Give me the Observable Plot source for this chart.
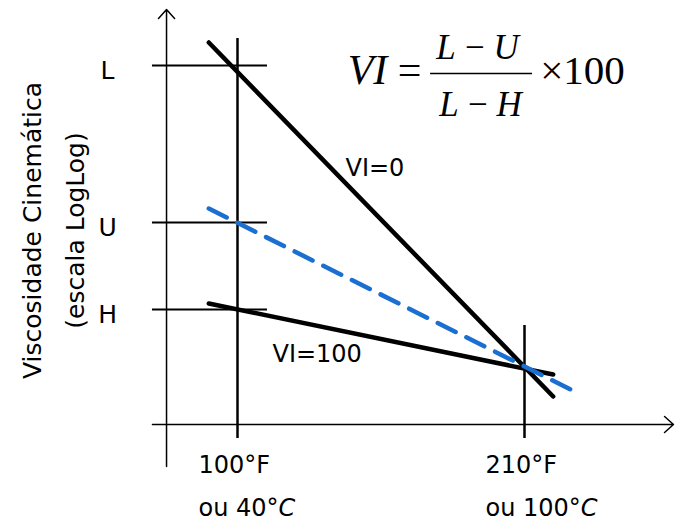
<!DOCTYPE html>
<html>
<head>
<meta charset="utf-8">
<script src="https://cdn.jsdelivr.net/npm/d3@7"></script>
<script src="https://cdn.jsdelivr.net/npm/@observablehq/plot@0.6"></script>
<style>
  body { margin: 0; background: #fff; }
  #chart { width: 675px; height: 524px; }
</style>
</head>
<body>
<div id="chart"></div>
<script>
// ---------- data ----------
const temperaturesF = [100, 210];
const temperatureLabelsF = ["100°F", "210°F"];
const temperatureLabelsC = ["ou 40°C", "ou 100°C"];

const levelNames = ["L", "U", "H"];
const levelValues = [35.9, 20.2, 11.5];   // viscosity (log-log units) at 100°F
const valueAt210 = 5.7;                   // common viscosity at 210°F

const vi0Temps = [89, 221];
const vi0Values = [38.2, 2.8];
const vi100Temps = [89, 221];
const vi100Values = [12.1, 5.0];
const oilTemps = [89, 230];
const oilValues = [21.6, 3.2];

const lineLabels = ["VI=0", "VI=100"];
const lineLabelTemps = [141.4, 113.4];
const lineLabelValues = [25.6, 7.0];

// ---------- layout (frame extents in data units) ----------
const originF = 72.8;
const xAxisStart = 67.4, xAxisEnd = 267.1;
const yAxisStart = -4.2, yAxisEnd = 41.5;
const levelRuleEnd = 111.5;
const tempLineBottom = -1.4;
const tempLineTops = [38.6, 9.9];
const fracBar = {x1: 174.0, x2: 213.1, y: 35.1};

const sans = "DejaVu Sans, Verdana, sans-serif";
const serif = "Liberation Serif, Times New Roman, serif";
const blue = "#1b6fd0";

const tempRows = temperaturesF.map((t, i) => ({t, top: tempLineTops[i], f: temperatureLabelsF[i], c: temperatureLabelsC[i]}));
const levelRows = levelNames.map((n, i) => ({n, v: levelValues[i]}));
const line = (xs, ys) => xs.map((x, i) => ({x, y: ys[i]}));
const labelRows = lineLabels.map((s, i) => ({s, x: lineLabelTemps[i], y: lineLabelValues[i]}));

const formulaText = (str, dx, dy, size, opts = {}) =>
  Plot.text([str], {frameAnchor: "top-left", dx, dy, text: d => d, lineAnchor: "middle", textAnchor: "middle", fontSize: size, fontFamily: serif, ...opts});

const chart = Plot.plot({
  width: 675,
  height: 524,
  margin: 0,
  style: {background: "#fff", color: "#000", overflow: "visible"},
  x: {domain: [100, 210], range: [237, 524], axis: null},
  y: {domain: [0, 35.9], range: [424, 65], axis: null},
  marks: [
    // axes with open arrowheads
    Plot.arrow([0], {x1: xAxisStart, y1: 0, x2: xAxisEnd, y2: 0, stroke: "#000", strokeWidth: 1.5, headLength: 12, headAngle: 84}),
    Plot.arrow([0], {x1: originF, y1: yAxisStart, x2: originF, y2: yAxisEnd, stroke: "#000", strokeWidth: 1.5, headLength: 12, headAngle: 84}),
    // reference levels L, U, H
    Plot.ruleY(levelRows, {y: "v", x1: xAxisStart, x2: levelRuleEnd, stroke: "#000", strokeWidth: 2}),
    // temperature verticals
    Plot.ruleX(tempRows, {x: "t", y1: tempLineBottom, y2: "top", stroke: "#000", strokeWidth: 2.5}),
    // VI lines
    Plot.line(line(vi0Temps, vi0Values), {x: "x", y: "y", stroke: "#000", strokeWidth: 4.5}),
    Plot.line(line(vi100Temps, vi100Values), {x: "x", y: "y", stroke: "#000", strokeWidth: 4.5}),
    Plot.line(line(oilTemps, oilValues), {x: "x", y: "y", stroke: blue, strokeWidth: 4.5, strokeDasharray: "20,12"}),
    // line labels
    Plot.text(labelRows, {x: "x", y: "y", text: "s", textAnchor: "start", fontSize: 24, fontFamily: sans}),
    // y tick labels
    Plot.text(levelRows, {x: originF, y: "v", text: "n", dx: -59, dy: 5, fontSize: 25, fontFamily: sans}),
    // x tick labels
    Plot.text(tempRows, {x: "t", y: 0, text: "f", textAnchor: "start", dx: -39, dy: 41, fontSize: 24, fontFamily: sans}),
    Plot.text(tempRows, {x: "t", y: 0, text: "c", textAnchor: "start", dx: -39, dy: 84, fontSize: 24, fontFamily: sans}),
    // y title
    Plot.text(["Viscosidade Cinemática\n(escala LogLog)"], {x: 27.75, y: 19.4, text: d => d, rotate: -90, lineHeight: 1.72, fontSize: 25, fontFamily: sans}),
    // formula
    formulaText("VI", 367, 70, 42, {fontStyle: "italic"}),
    formulaText("=", 409, 70, 42),
    formulaText("L\u2009−\u2009U", 477, 47, 35, {fontStyle: "italic"}),
    Plot.ruleY([fracBar.y], {x1: fracBar.x1, x2: fracBar.x2, stroke: "#000", strokeWidth: 1.5}),
    formulaText("L\u2009−\u2009H", 480, 104, 35, {fontStyle: "italic"}),
    formulaText("×100", 582, 70, 41)
  ]
});

document.getElementById("chart").appendChild(chart);

// italic "C" in the Celsius labels
d3.select(chart).selectAll("text").each(function () {
  const el = d3.select(this);
  const s = this.textContent;
  if (this.childElementCount === 0 && /°C$/.test(s)) {
    el.text(s.slice(0, -1));
    el.append("tspan").attr("font-style", "italic").text("C");
  }
});
</script>
</body>
</html>
